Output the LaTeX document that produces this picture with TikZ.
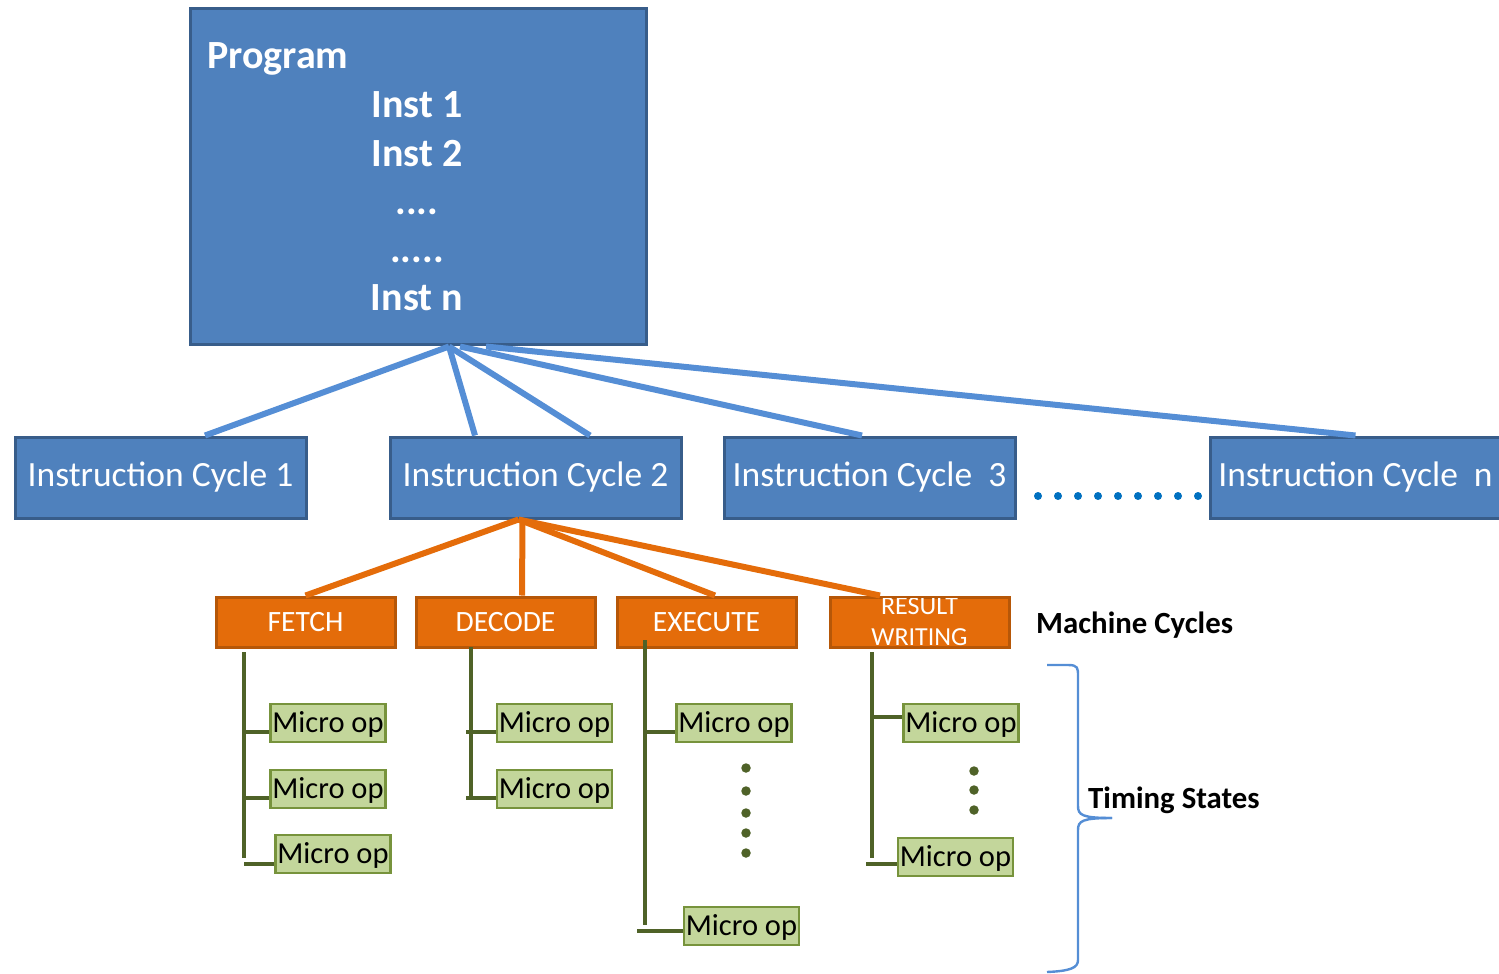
\documentclass[tikz,border=0pt]{standalone}
\usepackage{fontspec}
\setmainfont{Carlito}
\usetikzlibrary{calc}
\definecolor{progfill}{HTML}{4F81BD}
\definecolor{progedge}{HTML}{385D8A}
\definecolor{linkblue}{HTML}{558ED5}
\definecolor{dotblue}{HTML}{0070C0}
\definecolor{mcfill}{HTML}{E46C0A}
\definecolor{mcedge}{HTML}{B65708}
\definecolor{opfill}{HTML}{C3D69B}
\definecolor{opedge}{HTML}{77933C}
\definecolor{treegreen}{HTML}{4F6228}
\tikzset{
  progbox/.style={draw=progedge, line width=3pt, fill=progfill, inner sep=0pt,
    minimum width=456pt, minimum height=335pt},
  progtext/.style={text=white, font=\fontsize{40}{46}\selectfont\bfseries, inner sep=0pt},
  icbox/.style={draw=progedge, line width=3pt, fill=progfill, inner sep=0pt,
    minimum width=291pt, minimum height=81pt, text=white,
    font=\fontsize{35.5}{42}\selectfont},
  mcbox/.style={draw=mcedge, line width=3pt, fill=mcfill, inner sep=0pt,
    minimum width=179pt, minimum height=50pt, text=white,
    font=\fontsize{29.5}{32}\selectfont},
  mctext/.style={text=white, font=\fontsize{26}{32}\selectfont, inner sep=0pt, anchor=base},
  opbox/.style={draw=opedge, line width=2.4pt, fill=opfill, inner sep=0pt,
    minimum width=115pt, minimum height=38pt, text=black, text depth=2pt,
    font=\fontsize{30.5}{32}\selectfont},
  bluelink/.style={draw=linkblue, line width=6pt},
  orangelink/.style={draw=mcfill, line width=6pt},
  treeline/.style={draw=treegreen, line width=4pt},
  greendot/.style={circle, fill=treegreen, inner sep=0pt, minimum size=9.5pt},
  bluedot/.style={circle, fill=dotblue, inner sep=0pt, minimum size=8pt},
  sidelabel/.style={text=black, font=\fontsize{30.8}{36}\selectfont\bfseries, inner sep=0pt},
}
\begin{document}
\begin{tikzpicture}[x=1pt, y=-1pt]
\useasboundingbox (0,0) rectangle (1499,974);

% program block
\node[progbox] (prog) at (418,176.5) {};
\node[progtext, anchor=base west] (ptitle) at (207,69) {Program};
\node[progtext, anchor=base] (i1) at (417,117) {Inst 1};
\node[progtext, anchor=base] (i2) at (417,166) {Inst 2};
\node[progtext, anchor=base] (d1) at (417,214) {....};
\node[progtext, anchor=base] (d2) at (417,262) {.....};
\node[progtext, anchor=base] (in) at (417,310) {Inst n};

% instruction cycles
\node[icbox] (ic1) at (160.5,477.5) {Instruction Cycle 1};
\node[icbox] (ic2) at (535.5,477.5) {Instruction Cycle 2};
\node[icbox] (ic3) at (869.5,477.5) {Instruction Cycle\ \ 3};
\node[icbox] (icn) at (1355.5,477.5) {Instruction Cycle\ \ n};
\foreach \k in {0,...,8}
  \node[bluedot] (bd\k) at (1038+20*\k,496) {};

% program to instruction cycles
\coordinate (pa) at ($(prog.south)+(31,1)$);
\coordinate (pb) at ($(prog.south)+(42,1)$);
\coordinate (pc) at ($(prog.south)+(68,1)$);
\draw[bluelink] (pa) -- ($(ic1.north)+(44.5,0)$);
\draw[bluelink] (pa) -- ($(ic2.north)+(-60.5,0)$);
\draw[bluelink] (pa) -- ($(ic2.north)+(54.5,0)$);
\draw[bluelink] (pb) -- ($(ic3.north)+(-7.5,0)$);
\draw[bluelink] (pc) -- (icn.north);

% machine cycles
\node[mcbox] (fetch) at (305.5,622) {FETCH};
\node[mcbox] (decode) at (505.5,622) {DECODE};
\node[mcbox] (execute) at (706.5,622) {EXECUTE};
\node[mcbox] (result) at (919.5,622) {};
\begin{scope}
  \clip ($(result.north west)+(0,3)$) rectangle (result.south east);
  \node[mctext] (resulttop) at (919.5,614) {RESULT};
  \node[mctext] (resultbottom) at (919.5,645) {WRITING};
\end{scope}
\node[sidelabel, anchor=base west] (mclabel) at (1036,633) {Machine Cycles};

% instruction cycle 2 to machine cycles
\coordinate (oc) at ($(ic2.south)+(-17,0)$);
\draw[orangelink] (oc) -- (fetch.north);
\draw[orangelink] ($(ic2.south)+(-13,0)$) -- ($(decode.north)+(16.5,0)$);
\draw[orangelink] (oc) -- ($(execute.north)+(8.5,0)$);
\draw[orangelink] (oc) -- ($(result.north)+(-39.5,0)$);

% micro operations
\node[opbox] (f1) at (328,723) {Micro op};
\node[opbox] (f2) at (328,789) {Micro op};
\node[opbox] (f3) at (333,854) {Micro op};
\node[opbox] (c1) at (554.5,723) {Micro op};
\node[opbox] (c2) at (554.5,789) {Micro op};
\node[opbox] (e1) at (734,723) {Micro op};
\node[opbox] (e2) at (741.5,926) {Micro op};
\node[opbox] (w1) at (961,723) {Micro op};
\node[opbox] (w2) at (955.5,857) {Micro op};

% fetch tree
\coordinate (ft) at (244,652);
\draw[treeline] (ft) -- (244,858);
\draw[treeline] (244,732) -- ($(f1.west)+(0,9)$);
\draw[treeline] (244,798) -- ($(f2.west)+(0,9)$);
\draw[treeline] (244,864) -- ($(f3.west)+(0,10)$);

% decode tree
\coordinate (ct) at (471,647);
\draw[treeline] (ct) -- (471,798);
\draw[treeline] (466,732) -- ($(c1.west)+(0,9)$);
\draw[treeline] (466,798) -- ($(c2.west)+(0,9)$);

% execute tree
\coordinate (et) at (645,640);
\draw[treeline] (et) -- (645,925);
\draw[treeline] (645,732) -- ($(e1.west)+(0,9)$);
\draw[treeline] (637,931) -- ($(e2.west)+(0,5)$);
\foreach \k/\yy in {1/768,2/791,3/813,4/833,5/853}
  \node[greendot] (ed\k) at (746,\yy) {};

% result writing tree
\coordinate (wt) at (872,652);
\draw[treeline] (wt) -- (872,858);
\draw[treeline] (872,717) -- ($(w1.west)+(0,-6)$);
\draw[treeline] (866,864) -- ($(w2.west)+(0,7)$);
\foreach \k/\yy in {1/771,2/790,3/810}
  \node[greendot] (wd\k) at (974,\yy) {};

% timing states brace
\draw[linkblue, line width=2.4pt, line join=round]
  (1047,665) -- (1068,665) .. controls (1078,665) and (1078,668) .. (1078,676)
  -- (1078,806) .. controls (1078,815) and (1082,818) .. (1112,818);
\draw[linkblue, line width=2.4pt, line join=round]
  (1112,818) .. controls (1082,818) and (1078,821) .. (1078,830)
  -- (1078,960) .. controls (1078,968) and (1070,971) .. (1047,972);
\node[sidelabel, anchor=base west] (tslabel) at (1088,808) {Timing States};
\end{tikzpicture}
\end{document}
